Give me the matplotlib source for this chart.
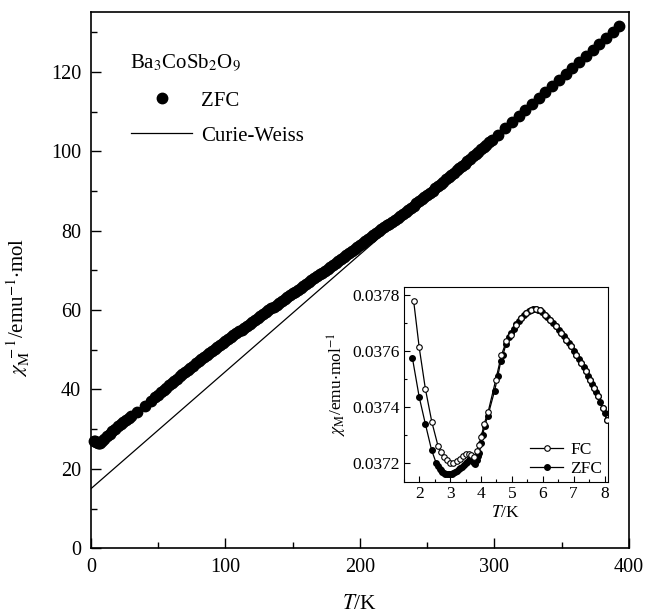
import matplotlib
matplotlib.use("Agg")
import matplotlib.pyplot as plt
from matplotlib.lines import Line2D
from matplotlib.ticker import MultipleLocator

plt.rcParams["font.family"] = ["Liberation Serif", "DejaVu Serif"]
plt.rcParams["mathtext.fontset"] = "stix"

# main panel: inverse susceptibility (ZFC)
t_zfc = [2, 3, 4, 5, 6, 7, 8, 10, 12, 14, 16, 18, 20, 22, 24, 26, 28, 30,
         34.5, 40, 45,
         48, 50, 52, 54, 56, 58, 60, 62, 64, 66, 68, 70, 72, 74, 76, 78, 80,
         82, 84, 86, 88, 90, 92, 94, 96, 98, 100,
         102, 104, 106, 108, 110, 112, 114, 116, 118, 120,
         122, 124, 126, 128, 130, 132, 134, 136, 138, 140,
         142, 144, 146, 148, 150, 152, 154, 156, 158, 160,
         162, 164, 166, 168, 170, 172, 174, 176, 178, 180,
         182, 184, 186, 188, 190, 192, 194, 196, 198, 200,
         202, 204, 206, 208, 210, 212, 214, 216, 218, 220,
         222, 224, 226, 228, 230, 232, 234, 236, 238, 240,
         242, 244, 246, 248, 250, 252, 254, 256, 258, 260,
         262, 264, 266, 268, 270, 272, 274, 276, 278, 280,
         282, 284, 286, 288, 290, 292, 294, 296, 298,
         303, 308, 313, 318, 323, 328, 333, 338, 343, 348,
         353, 358, 363, 368, 373, 378, 383, 388, 393]
inv_chi = [27.0, 26.9, 26.8, 26.6, 26.5, 26.6, 26.9, 27.6, 28.2, 28.9, 29.5, 30.1, 30.8, 31.4, 31.9, 32.4, 32.9, 33.4,
           34.4, 35.8, 37.2,
           38.1, 38.7, 39.3, 39.9, 40.4, 41.0, 41.6, 42.2, 42.7, 43.3, 43.8, 44.4, 44.9, 45.5, 46.0, 46.6, 47.1,
           47.7, 48.2, 48.7, 49.2, 49.8, 50.3, 50.8, 51.2, 51.7, 52.2,
           52.7, 53.2, 53.7, 54.1, 54.6, 55.1, 55.6, 56.1, 56.5, 57.0,
           57.5, 58.0, 58.5, 58.9, 59.4, 59.9, 60.4, 60.8, 61.3, 61.8,
           62.3, 62.7, 63.2, 63.7, 64.2, 64.6, 65.1, 65.6, 66.1, 66.6,
           67.0, 67.5, 68.0, 68.5, 69.0, 69.4, 69.9, 70.4, 70.9, 71.4,
           71.9, 72.4, 72.8, 73.3, 73.8, 74.3, 74.8, 75.3, 75.8, 76.3,
           76.8, 77.3, 77.8, 78.3, 78.8, 79.3, 79.8, 80.3, 80.8, 81.3,
           81.8, 82.3, 82.8, 83.3, 83.8, 84.3, 84.8, 85.3, 85.8, 86.3,
           86.9, 87.4, 87.9, 88.5, 89.0, 89.6, 90.1, 90.7, 91.2, 91.8,
           92.3, 92.9, 93.5, 94.0, 94.6, 95.2, 95.8, 96.3, 96.9, 97.5,
           98.1, 98.7, 99.3, 99.9, 100.5, 101.1, 101.7, 102.3, 102.9,
           104.2, 105.8, 107.3, 108.8, 110.3, 111.8, 113.4, 114.9, 116.4, 117.9,
           119.4, 120.9, 122.4, 124.0, 125.5, 127.0, 128.6, 130.1, 131.6]

# Curie-Weiss fit line (end points)
t_cw = [0, 300]
inv_chi_cw = [15.0, 103.5]

# inset: chi_M vs T, FC and ZFC
t_fc = [1.82, 2.0, 2.2, 2.41, 2.61, 2.70, 2.80, 2.91, 3.0, 3.1, 3.22, 3.31, 3.42, 3.53, 3.61,
        3.68, 3.76, 3.87, 3.93, 4.01, 4.1, 4.23, 4.48, 4.66, 4.82, 4.98, 5.14, 5.30, 5.46,
        5.63, 5.77, 5.90, 6.06, 6.22, 6.43, 6.60, 6.76, 6.92, 7.08, 7.24, 7.40, 7.53, 7.67,
        7.80, 7.94, 8.07]
chi_fc = [0.03778, 0.037613, 0.037464, 0.037345, 0.037259, 0.037238, 0.037221, 0.037208,
          0.037200, 0.037200, 0.037206, 0.037213, 0.037222, 0.037230, 0.037230, 0.037226,
          0.037220, 0.037240, 0.037262, 0.037292, 0.037338, 0.037381, 0.037497, 0.037585,
          0.037635, 0.037659, 0.037695, 0.037719, 0.037737, 0.037746, 0.037751, 0.037746,
          0.037731, 0.037713, 0.037689, 0.037665, 0.037641, 0.037617, 0.037587, 0.037557,
          0.037527, 0.037497, 0.037467, 0.037437, 0.037396, 0.037354]
t_zfc_in = [1.78, 2.0, 2.2, 2.4, 2.55, 2.61, 2.66, 2.70, 2.75, 2.80, 2.85, 2.91, 2.95, 3.0,
            3.05, 3.1, 3.16, 3.22, 3.28, 3.33, 3.38, 3.44, 3.50, 3.55, 3.60, 3.65, 3.70,
            3.76, 3.82, 3.87, 3.91, 3.95, 4.01, 4.06, 4.12, 4.22, 4.44, 4.55, 4.64, 4.71,
            4.81, 4.90, 4.98, 5.06, 5.14, 5.22, 5.30, 5.38, 5.46, 5.55, 5.63, 5.70, 5.77,
            5.84, 5.90, 5.98, 6.06, 6.14, 6.22, 6.32, 6.43, 6.52, 6.60, 6.68, 6.76, 6.84,
            6.92, 7.00, 7.08, 7.16, 7.24, 7.32, 7.40, 7.47, 7.53, 7.60, 7.67, 7.74, 7.80,
            7.87, 7.94, 8.0, 8.07]
chi_zfc_in = [0.037575, 0.037435, 0.037338, 0.037245, 0.037198, 0.037189, 0.037178, 0.037172,
              0.037167, 0.037162, 0.037159, 0.037157, 0.037157, 0.037158, 0.037160, 0.037163,
              0.037166, 0.037170, 0.037175, 0.037180, 0.037185, 0.037191, 0.037197, 0.037203,
              0.037208, 0.037210, 0.037207, 0.037198, 0.037193, 0.037210, 0.037222, 0.037235,
              0.037270, 0.037300, 0.037332, 0.037366, 0.037457, 0.037512, 0.037563, 0.037585,
              0.037625, 0.037650, 0.037665, 0.037680, 0.037697, 0.037709, 0.037720, 0.037730,
              0.037738, 0.037743, 0.037747, 0.037750, 0.037751, 0.037749, 0.037746, 0.037739,
              0.037731, 0.037722, 0.037713, 0.037701, 0.037689, 0.037676, 0.037665, 0.037653,
              0.037641, 0.037629, 0.037617, 0.037602, 0.037587, 0.037572, 0.037557, 0.037542,
              0.037527, 0.037511, 0.037497, 0.037482, 0.037467, 0.037452, 0.037437, 0.037416,
              0.037396, 0.037376, 0.037354]

fig = plt.figure(figsize=(6.45, 6.16), dpi=100)
ax = fig.add_axes([0.141, 0.110, 0.834, 0.870])

ax.plot(t_cw, inv_chi_cw, color="black", lw=0.9, zorder=2)
ax.plot(t_zfc, inv_chi, "o", color="black", ms=7.5, zorder=3, clip_on=False)

ax.set_xlim(0, 400)
ax.set_ylim(0, 135)
ax.xaxis.set_major_locator(MultipleLocator(100))
ax.xaxis.set_minor_locator(MultipleLocator(50))
ax.yaxis.set_major_locator(MultipleLocator(20))
ax.yaxis.set_minor_locator(MultipleLocator(10))
ax.tick_params(which="both", direction="in", labelsize=14.5, top=False, right=False)
ax.tick_params(which="major", length=7, width=1, pad=7)
ax.tick_params(which="minor", length=4, width=1)
for s in ax.spines.values():
    s.set_linewidth(1.2)
ax.set_xlabel(r"$T$/K", fontsize=15.5, labelpad=13)
ax.set_ylabel(r"$\chi_{\rm M}^{\ -1}$/emu$^{-1}$$\cdot$mol", fontsize=15)
ax.yaxis.set_label_coords(-0.11, 0.45)

ax.text(0.072, 0.907, r"Ba$_3$CoSb$_2$O$_9$", transform=ax.transAxes,
        fontsize=15, va="center", ha="left")
handles = [Line2D([], [], ls="none", marker="o", color="black", ms=7.5),
           Line2D([], [], color="black", lw=0.9)]
ax.legend(handles, ["ZFC", "Curie-Weiss"], loc="upper left",
          bbox_to_anchor=(131 / 645, 1 - 91 / 616), bbox_transform=fig.transFigure,
          frameon=False, fontsize=15, handlelength=2.95, handletextpad=0.4,
          labelspacing=0.75, borderpad=0, borderaxespad=0)

# inset
ins = fig.add_axes([0.626, 0.2175, 0.316, 0.3166])
ins.plot(t_zfc_in, chi_zfc_in, "-o", color="black", lw=0.9, ms=4,
         mfc="black", mec="black", zorder=3)
ins.plot(t_fc, chi_fc, "-o", color="black", lw=0.9, ms=4,
         mfc="white", mec="black", mew=0.8, zorder=4)
ins.set_xlim(1.5, 8.1)
ins.set_ylim(0.03713, 0.03783)
ins.xaxis.set_major_locator(MultipleLocator(1))
ins.xaxis.set_minor_locator(MultipleLocator(0.5))
ins.yaxis.set_major_locator(MultipleLocator(0.0002))
ins.yaxis.set_minor_locator(MultipleLocator(0.0001))
ins.tick_params(which="both", direction="in", labelsize=12.5, top=False, right=False)
ins.tick_params(which="major", length=4, width=0.8, pad=3)
ins.tick_params(which="minor", length=2, width=0.8)
ins.set_yticklabels([f"{v:.4f}" for v in ins.get_yticks()])
ins.set_xlabel(r"$T$/K", fontsize=12.5, labelpad=2)
ins.set_ylabel(r"$\chi_{\rm M}$/emu$\cdot$mol$^{-1}$", fontsize=12.5, labelpad=2)
ins_handles = [Line2D([], [], color="black", lw=0.9, marker="o", ms=4, mfc="white", mew=0.8),
               Line2D([], [], color="black", lw=0.9, marker="o", ms=4, mfc="black")]
ins.legend(ins_handles, ["FC", "ZFC"], loc="lower right", frameon=False, fontsize=12.5,
           handlelength=1.9, handletextpad=0.4, labelspacing=0.15,
           borderpad=0.2, borderaxespad=0.1)

fig.savefig("out.png", dpi=100)
